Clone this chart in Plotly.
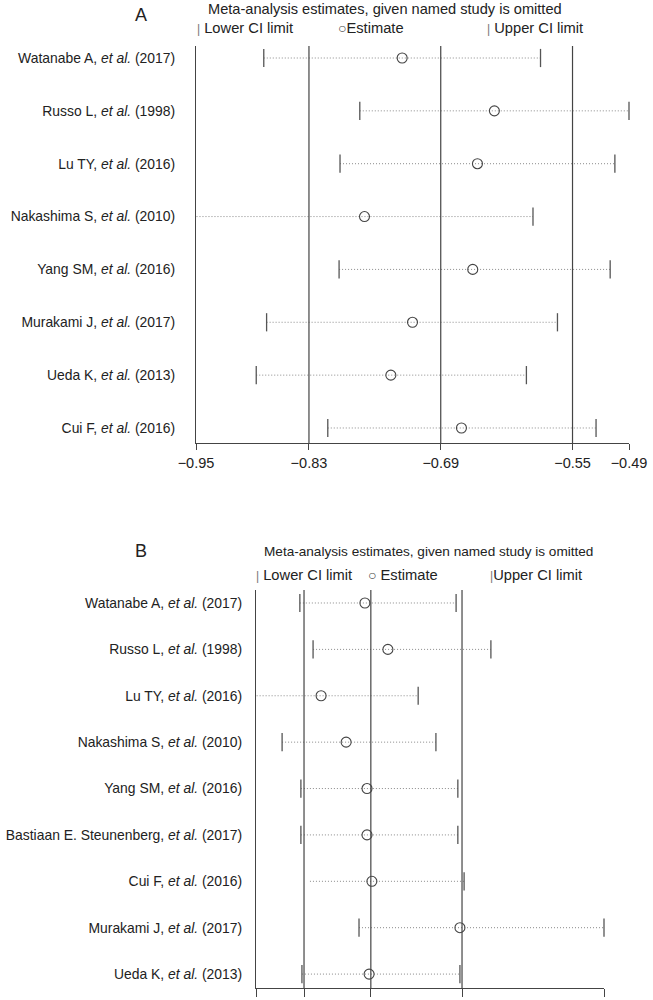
import plotly.graph_objects as go

# ---------------- Panel A data ----------------
studies_A = [
    "Watanabe A, <i>et al.</i> (2017)",
    "Russo L, <i>et al.</i> (1998)",
    "Lu TY, <i>et al.</i> (2016)",
    "Nakashima S, <i>et al.</i> (2010)",
    "Yang SM, <i>et al.</i> (2016)",
    "Murakami J, <i>et al.</i> (2017)",
    "Ueda K, <i>et al.</i> (2013)",
    "Cui F, <i>et al.</i> (2016)",
]
lower_A = [-0.878, -0.776, -0.797, -0.975, -0.798, -0.875, -0.886, -0.810]
est_A = [-0.731, -0.633, -0.651, -0.771, -0.656, -0.720, -0.743, -0.668]
upper_A = [-0.584, -0.490, -0.505, -0.592, -0.510, -0.566, -0.599, -0.525]
overall_A = [-0.83, -0.69, -0.55]
ticks_A = [-0.95, -0.83, -0.69, -0.55, -0.49]
ticktext_A = ["\u22120.95", "\u22120.83", "\u22120.69", "\u22120.55", "\u22120.49"]

# ---------------- Panel B data (relative scale, no labels shown) ----------------
studies_B = [
    "Watanabe A, <i>et al.</i> (2017)",
    "Russo L, <i>et al.</i> (1998)",
    "Lu TY, <i>et al.</i> (2016)",
    "Nakashima S, <i>et al.</i> (2010)",
    "Yang SM, <i>et al.</i> (2016)",
    "Bastiaan E. Steunenberg, <i>et al.</i> (2017)",
    "Cui F, <i>et al.</i> (2016)",
    "Murakami J, <i>et al.</i> (2017)",
    "Ueda K, <i>et al.</i> (2013)",
]
lower_B = [0.126, 0.164, -0.050, 0.075, 0.129, 0.129, 0.155, 0.296, 0.132]
est_B = [0.313, 0.379, 0.187, 0.259, 0.319, 0.319, 0.333, 0.586, 0.325]
upper_B = [0.575, 0.675, 0.466, 0.517, 0.580, 0.580, 0.598, 1.000, 0.586]
show_lower_tick_B = [True, True, True, True, True, True, False, True, True]
overall_B = [0.138, 0.330, 0.592]
ticks_B = [0.0, 0.138, 0.330, 0.592, 1.0]

FONT = "Liberation Sans, Arial, Helvetica, sans-serif"
TXT = "#222222"
AX = "#444444"

fig = go.Figure()


def add_panel(fig, studies, lo, est, hi, show_lo, xref, yref):
    ys = list(range(len(studies)))
    lx, ly = [], []
    for i in ys:
        lx += [lo[i], hi[i], None]
        ly += [i, i, None]
    fig.add_trace(go.Scatter(x=lx, y=ly, mode="lines",
                             line=dict(color="#8a8a8a", width=1, dash="1px,2px"),
                             xaxis=xref, yaxis=yref, showlegend=False, hoverinfo="skip"))
    lo_x = [lo[i] for i in ys if show_lo[i]]
    lo_y = [i for i in ys if show_lo[i]]
    fig.add_trace(go.Scatter(x=lo_x, y=lo_y, mode="markers",
                             marker=dict(symbol="line-ns", size=13,
                                         line=dict(color="#555555", width=1.3)),
                             xaxis=xref, yaxis=yref, showlegend=False))
    fig.add_trace(go.Scatter(x=hi, y=ys, mode="markers",
                             marker=dict(symbol="line-ns", size=13,
                                         line=dict(color="#555555", width=1.3)),
                             xaxis=xref, yaxis=yref, showlegend=False, cliponaxis=False))
    fig.add_trace(go.Scatter(x=est, y=ys, mode="markers",
                             marker=dict(symbol="circle-open", size=10,
                                         color="#444444", line=dict(width=1.1)),
                             xaxis=xref, yaxis=yref, showlegend=False, cliponaxis=False))


add_panel(fig, studies_A, lower_A, est_A, upper_A, [True] * len(studies_A), "x", "y")
add_panel(fig, studies_B, lower_B, est_B, upper_B, show_lower_tick_B, "x2", "y2")

for v in overall_A:
    fig.add_shape(type="line", xref="x", yref="y domain", x0=v, x1=v, y0=0, y1=1,
                  line=dict(color=AX, width=1.2))
for v in overall_B:
    fig.add_shape(type="line", xref="x2", yref="y2 domain", x0=v, x1=v, y0=0, y1=1,
                  line=dict(color=AX, width=1.2))

W, H = 653, 1000
nA, nB = len(studies_A), len(studies_B)
LBL = 13.9

fig.update_layout(
    template="none",
    width=W, height=H,
    margin=dict(l=0, r=0, t=0, b=0, pad=0),
    paper_bgcolor="white", plot_bgcolor="white",
    font=dict(family=FONT, size=14, color=TXT),
    xaxis=dict(domain=[196 / W, 629 / W], range=[-0.95, -0.49], anchor="y",
               tickvals=ticks_A, ticktext=ticktext_A, showgrid=False, zeroline=False,
               showline=True, linecolor=AX, linewidth=1.2, automargin=False,
               ticks="outside", ticklen=6, tickcolor=AX, tickwidth=1.2,
               tickfont=dict(size=14.5, color=TXT)),
    yaxis=dict(domain=[1 - 443 / H, 1 - 46 / H], range=[nA - 1 + 0.284, -0.227],
               anchor="x", tickvals=list(range(nA)), ticktext=studies_A, automargin=False,
               showgrid=False, zeroline=False, showline=True, linecolor=AX, linewidth=1.2,
               ticks="", ticklabelstandoff=17, tickfont=dict(size=LBL, color=TXT)),
    xaxis2=dict(domain=[256 / W, 604 / W], range=[0.0, 1.0], anchor="y2",
                tickvals=ticks_B, showticklabels=False, showgrid=False, zeroline=False,
                showline=True, linecolor=AX, linewidth=1.2, automargin=False,
                ticks="outside", ticklen=8, tickcolor=AX, tickwidth=1.2),
    yaxis2=dict(domain=[1 - 988 / H, 1 - 590 / H], range=[nB - 1 + 0.30, -0.28],
                anchor="x2", tickvals=list(range(nB)), ticktext=studies_B, automargin=False,
                showgrid=False, zeroline=False, showline=True, linecolor=AX, linewidth=1.2,
                ticks="", ticklabelstandoff=10, tickfont=dict(size=LBL, color=TXT)),
)


def ann(text, x, y, size=14.7, xanchor="left"):
    fig.add_annotation(text=text, x=x / W, y=1 - y / H, xref="paper", yref="paper",
                       xanchor=xanchor, yanchor="middle", showarrow=False,
                       font=dict(family=FONT, size=size, color=TXT))


CIRC = "<span style='font-size:14px;color:#444'>\u25CB</span>"
BAR = "<span style='color:#777;font-size:12px'>|</span>"

# Panel A header
ann("A", 133, 15, size=18)
ann("Meta-analysis estimates, given named study is omitted", 206, 9, size=14.6)
ann(BAR + " Lower CI limit", 195, 28)
ann(CIRC + "Estimate", 336, 28)
ann(BAR + " Upper CI limit", 485, 28)

# Panel B header
ann("B", 133, 551, size=18)
ann("Meta-analysis estimates, given named study is omitted", 262, 551, size=13.6)
ann(BAR + " Lower CI limit", 254, 575)
ann(CIRC + " Estimate", 366, 575)
ann(BAR + "Upper CI limit", 488, 575)

fig.write_html("out.html", config={"displayModeBar": False},
               post_script="document.body.style.margin='0';")
